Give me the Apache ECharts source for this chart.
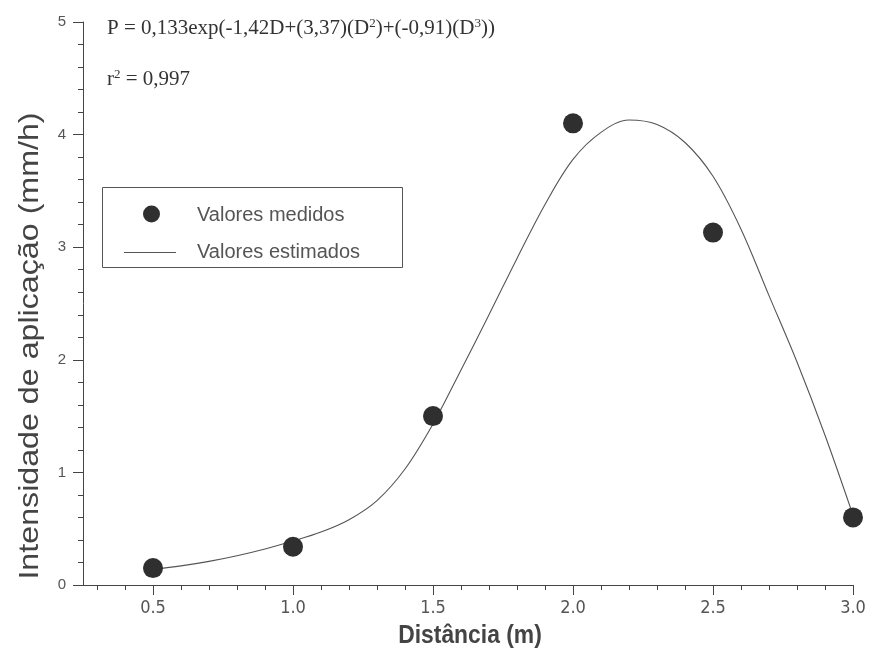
<!DOCTYPE html>
<html>
<head>
<meta charset="utf-8">
<script src="https://cdn.jsdelivr.net/npm/echarts@6/dist/echarts.min.js"></script>
<style>
html,body{margin:0;padding:0;background:#fff;}
#c{width:872px;height:659px;}
</style>
</head>
<body>
<div id="c"></div>
<script>
// Measured values
var measuredX = [0.5, 1.0, 1.5, 2.0, 2.5, 3.0];
var measuredY = [0.15, 0.34, 1.50, 4.10, 3.13, 0.60];
// Fitted curve
var curveX = [0.5, 0.6, 0.7, 0.8, 0.9, 1.0, 1.1, 1.2, 1.3, 1.4, 1.5, 1.6, 1.7, 1.8, 1.9, 2.0, 2.1, 2.2, 2.3, 2.4, 2.5, 2.6, 2.7, 2.8, 2.9, 3.0];
var curveY = [0.14, 0.17, 0.21, 0.26, 0.32, 0.39, 0.47, 0.58, 0.75, 1.03, 1.43, 1.91, 2.40, 2.90, 3.38, 3.78, 4.02, 4.13, 4.09, 3.93, 3.63, 3.16, 2.57, 1.98, 1.33, 0.62];
// Axis tick values
var xLabelValues = [0.5, 1.0, 1.5, 2.0, 2.5, 3.0];
var xMinorValues = [0.3, 0.4, 0.6, 0.7, 0.8, 0.9, 1.1, 1.2, 1.3, 1.4, 1.6, 1.7, 1.8, 1.9, 2.1, 2.2, 2.3, 2.4, 2.6, 2.7, 2.8, 2.9];
var seriesNames = ['Valores medidos', 'Valores estimados'];
var axisNames = ['Distância (m)', 'Intensidade de aplicação (mm/h)'];
var equationText = 'P = 0,133exp(-1,42D+(3,37)(D{sup|2})+(-0,91)(D{sup|3}))';
var r2Text = 'r{sup|2} = 0,997';

function zip(a, b) { return a.map(function (v, i) { return [v, b[i]]; }); }

var axisColor = '#444';
var labelColor = '#555';
var dotColor = '#2f2f2f';
var supRich = {sup: {fontSize: 13, verticalAlign: 'top', fontFamily: 'Liberation Serif', fill: '#333'}};

var chart = echarts.init(document.getElementById('c'), null, {renderer: 'canvas'});
chart.setOption({
  backgroundColor: '#ffffff',
  animation: false,
  grid: {left: 83, right: 19, top: 22, bottom: 74, containLabel: false},
  xAxis: [{
    type: 'value', min: 0.25, max: 3.0,
    axisLine: {show: true, onZero: false, lineStyle: {color: axisColor, width: 1}},
    axisTick: {show: true, inside: false, length: 10, customValues: xLabelValues, lineStyle: {color: axisColor}},
    axisLabel: {show: true, customValues: xLabelValues, margin: 14, color: labelColor, fontSize: 18,
      fontFamily: 'Liberation Sans Narrow, DejaVu Sans Condensed, Liberation Sans',
      formatter: function (v) { return v.toFixed(1); }},
    splitLine: {show: false}
  }, {
    type: 'value', min: 0.25, max: 3.0, position: 'bottom',
    axisLine: {show: false},
    axisTick: {show: true, inside: false, length: 5, customValues: xMinorValues, lineStyle: {color: axisColor}},
    axisLabel: {show: false},
    splitLine: {show: false}
  }],
  yAxis: {
    type: 'value', min: 0, max: 5, interval: 1,
    axisLine: {show: true, onZero: false, lineStyle: {color: axisColor, width: 1}},
    axisTick: {show: true, inside: false, length: 10, lineStyle: {color: axisColor}},
    minorTick: {show: true, splitNumber: 5, length: 5, lineStyle: {color: axisColor}},
    axisLabel: {margin: 17, color: labelColor, fontSize: 15, fontFamily: 'Liberation Sans, Arial, sans-serif'},
    splitLine: {show: false}
  },
  series: [{
    name: seriesNames[1], type: 'line', xAxisIndex: 0,
    data: zip(curveX, curveY), smooth: 0.35, showSymbol: false, symbol: 'none',
    lineStyle: {color: '#555', width: 1.1}, z: 2
  }, {
    name: seriesNames[0], type: 'scatter', xAxisIndex: 0,
    data: zip(measuredX, measuredY), symbol: 'circle', symbolSize: 20,
    itemStyle: {color: dotColor, opacity: 1}, z: 3
  }],
  graphic: [
    {type: 'text', x: 107, y: 28, style: {
      text: equationText, fill: '#333', font: '21px "Liberation Serif", "Times New Roman", serif',
      verticalAlign: 'middle', rich: supRich
    }},
    {type: 'text', x: 107, y: 79, style: {
      text: r2Text, fill: '#333', font: '21px "Liberation Serif", "Times New Roman", serif',
      verticalAlign: 'middle', rich: supRich
    }},
    {type: 'text', x: 470, y: 636, scaleX: 0.88, style: {
      text: axisNames[0], fill: '#444', font: 'bold 26px "Liberation Sans", Arial, sans-serif',
      align: 'center', verticalAlign: 'middle'
    }},
    {type: 'text', x: 30, y: 346, rotation: Math.PI / 2, scaleX: 1.15, style: {
      text: axisNames[1], fill: '#444', font: '28px "Liberation Sans", Arial, sans-serif',
      align: 'center', verticalAlign: 'middle'
    }},
    {type: 'rect', shape: {x: 102.5, y: 187.5, width: 300, height: 80}, style: {fill: 'rgba(255,255,255,0)', stroke: '#555', lineWidth: 1}},
    {type: 'circle', shape: {cx: 151.5, cy: 214, r: 8.5}, style: {fill: dotColor}},
    {type: 'text', x: 197, y: 215, style: {text: seriesNames[0], fill: '#555', font: '20px "Liberation Sans", Arial, sans-serif', verticalAlign: 'middle'}},
    {type: 'line', shape: {x1: 124, y1: 252.5, x2: 176, y2: 252.5}, style: {stroke: '#555', lineWidth: 1.1}},
    {type: 'text', x: 197, y: 252, style: {text: seriesNames[1], fill: '#555', font: '20px "Liberation Sans", Arial, sans-serif', verticalAlign: 'middle'}}
  ]
});
</script>
</body>
</html>
